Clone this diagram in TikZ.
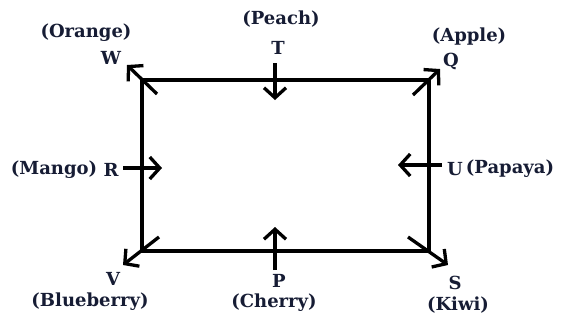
\documentclass[tikz,border=0pt]{standalone}
\usepackage{fontspec}
\setmainfont{DejaVu Serif}
\usetikzlibrary{arrows.meta}
\definecolor{txt}{RGB}{22,28,52}
\tikzset{
  lbl/.style={text=txt, font=\fontsize{18}{20}\selectfont\bfseries, inner sep=0pt},
  edge/.style={line width=3.3pt, black},
  arr/.style={line width=3.3pt, black, -{Straight Barb[length=10pt,width=22pt,line width=3.3pt]}},
}
\begin{document}
\begin{tikzpicture}[x=1pt,y=-1pt]
\useasboundingbox (0,0) rectangle (563,322);
% corners
\coordinate (cW) at (142,80);
\coordinate (cQ) at (429,80);
\coordinate (cV) at (142,251);
\coordinate (cS) at (429,251);
\draw[edge] (cW) rectangle (cS);
% labels
\node[lbl] (orange) at (86,33) {(Orange)};
\node[lbl] (W) at (111,58) {W};
\node[lbl] (peach) at (281,19) {(Peach)};
\node[lbl] (T) at (278,48) {T};
\node[lbl] (apple) at (469,37) {(Apple)};
\node[lbl] (Q) at (451,61) {Q};
\node[lbl] (mango) at (54,170) {(Mango)};
\node[lbl] (R) at (111,170) {R};
\node[lbl] (U) at (455,169) {U};
\node[lbl] (papaya) at (510,169) {(Papaya)};
\node[lbl] (V) at (113,279) {V};
\node[lbl] (blue) at (90,302) {(Blueberry)};
\node[lbl] (P) at (279,281) {P};
\node[lbl] (cherry) at (274,303) {(Cherry)};
\node[lbl] (S) at (455,283) {S};
\node[lbl] (kiwi) at (458,305) {(Kiwi)};
% arrow endpoints
\coordinate (wA) at (157,94);  \coordinate (wB) at (127,65);
\coordinate (qA) at (413,95);  \coordinate (qB) at (440,69);
\coordinate (vA) at (159,237); \coordinate (vB) at (123,265);
\coordinate (sA) at (408,237); \coordinate (sB) at (448,265);
\coordinate (tA) at (275,63);  \coordinate (tB) at (275,100);
\coordinate (pA) at (275,270); \coordinate (pB) at (275,227);
\coordinate (rA) at (123,168); \coordinate (rB) at (162,168);
\coordinate (uA) at (442,165); \coordinate (uB) at (398,165);
\draw[arr] (wA) -- (wB);
\draw[arr] (qA) -- (qB);
\draw[arr] (vA) -- (vB);
\draw[arr] (sA) -- (sB);
\draw[arr] (tA) -- (tB);
\draw[arr] (pA) -- (pB);
\draw[arr] (rA) -- (rB);
\draw[arr] (uA) -- (uB);
\end{tikzpicture}
\end{document}
